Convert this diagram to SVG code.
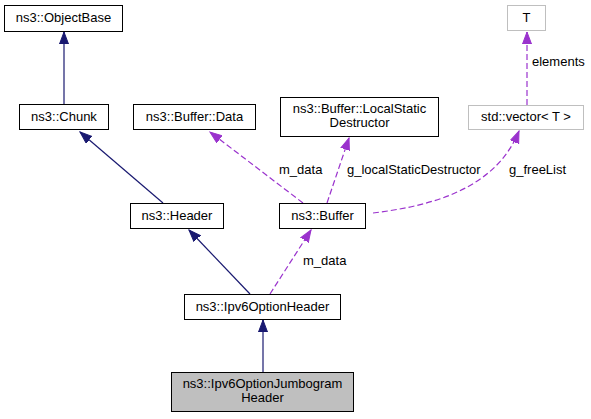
<svg xmlns="http://www.w3.org/2000/svg" width="591" height="419" viewBox="0 0 591 419">
<style>
text{font-family:"Liberation Sans",Arial,sans-serif;font-size:13px;fill:#000}
.n{fill:#fff;stroke:#000;stroke-width:1}
.g{fill:#fff;stroke:#bfbfbf;stroke-width:1}
.c{fill:#bfbfbf;stroke:#000;stroke-width:1}
.m{text-anchor:middle}
.inh{fill:none;stroke:#191970;stroke-width:1.2}
.use{fill:none;stroke:#9a32cd;stroke-width:1.2;stroke-dasharray:6,3}
</style>
<defs>
<marker id="an" markerWidth="14" markerHeight="11" refX="12" refY="5" orient="auto" markerUnits="userSpaceOnUse">
<path d="M0,0.5 L12,5 L0,9.5 Z" fill="#191970" stroke="#191970"/>
</marker>
<marker id="ap" markerWidth="14" markerHeight="11" refX="12" refY="5" orient="auto" markerUnits="userSpaceOnUse">
<path d="M0,0.5 L12,5 L0,9.5 Z" fill="#9a32cd" stroke="#9a32cd"/>
</marker>
</defs>
<rect width="591" height="419" fill="#fff"/>
<g id="edges">
<path class="inh" d="M64,104 L64,32" marker-end="url(#an)"/>
<path class="inh" d="M163,203 L80,132" marker-end="url(#an)"/>
<path class="inh" d="M250,294 L189,230" marker-end="url(#an)"/>
<path class="inh" d="M263,372 L263,320" marker-end="url(#an)"/>
<path class="use" d="M303,203 L210,132" marker-end="url(#ap)"/>
<text x="279" y="174">m_data</text>
<path class="use" d="M327,203 L349,138" marker-end="url(#ap)"/>
<text x="347" y="174">g_localStaticDestructor</text>
<path class="use" d="M373,213 C430,206 495,190 519,131" marker-end="url(#ap)"/>
<text x="509" y="174">g_freeList</text>
<path class="use" d="M527,105 L527,32" marker-end="url(#ap)"/>
<text x="532" y="66">elements</text>
<path class="use" d="M270,294 L311,230" marker-end="url(#ap)"/>
<text x="303" y="265">m_data</text>
</g>
<g id="objectbase"><rect class="n" x="4.5" y="5.5" width="118" height="26"/><text class="m" x="63.5" y="22">ns3::ObjectBase</text></g>
<g id="chunk"><rect class="n" x="19.5" y="104.5" width="89" height="25"/><text class="m" x="64" y="121">ns3::Chunk</text></g>
<g id="data"><rect class="n" x="133.5" y="104.5" width="122" height="25"/><text class="m" x="194.5" y="121">ns3::Buffer::Data</text></g>
<g id="localstatic"><rect class="n" x="280.5" y="97.5" width="158" height="39"/><text class="m" x="359.5" y="113">ns3::Buffer::LocalStatic</text><text class="m" x="359.5" y="127">Destructor</text></g>
<g id="t"><rect class="g" x="507.5" y="5.5" width="38" height="25"/><text class="m" x="526.5" y="22">T</text></g>
<g id="vector"><rect class="g" x="468.5" y="105.5" width="115" height="24"/><text class="m" x="526" y="121">std::vector&lt; T &gt;</text></g>
<g id="header"><rect class="n" x="130.5" y="203.5" width="93" height="25"/><text class="m" x="177" y="220">ns3::Header</text></g>
<g id="buffer"><rect class="n" x="279.5" y="203.5" width="86" height="25"/><text class="m" x="322.5" y="220">ns3::Buffer</text></g>
<g id="ipv6optionheader"><rect class="n" x="184.5" y="294.5" width="156" height="25"/><text class="m" x="262.5" y="311">ns3::Ipv6OptionHeader</text></g>
<g id="jumbogram"><rect class="c" x="171.5" y="372.5" width="182" height="39"/><text class="m" x="262.5" y="388">ns3::Ipv6OptionJumbogram</text><text class="m" x="262.5" y="402">Header</text></g>
</svg>
